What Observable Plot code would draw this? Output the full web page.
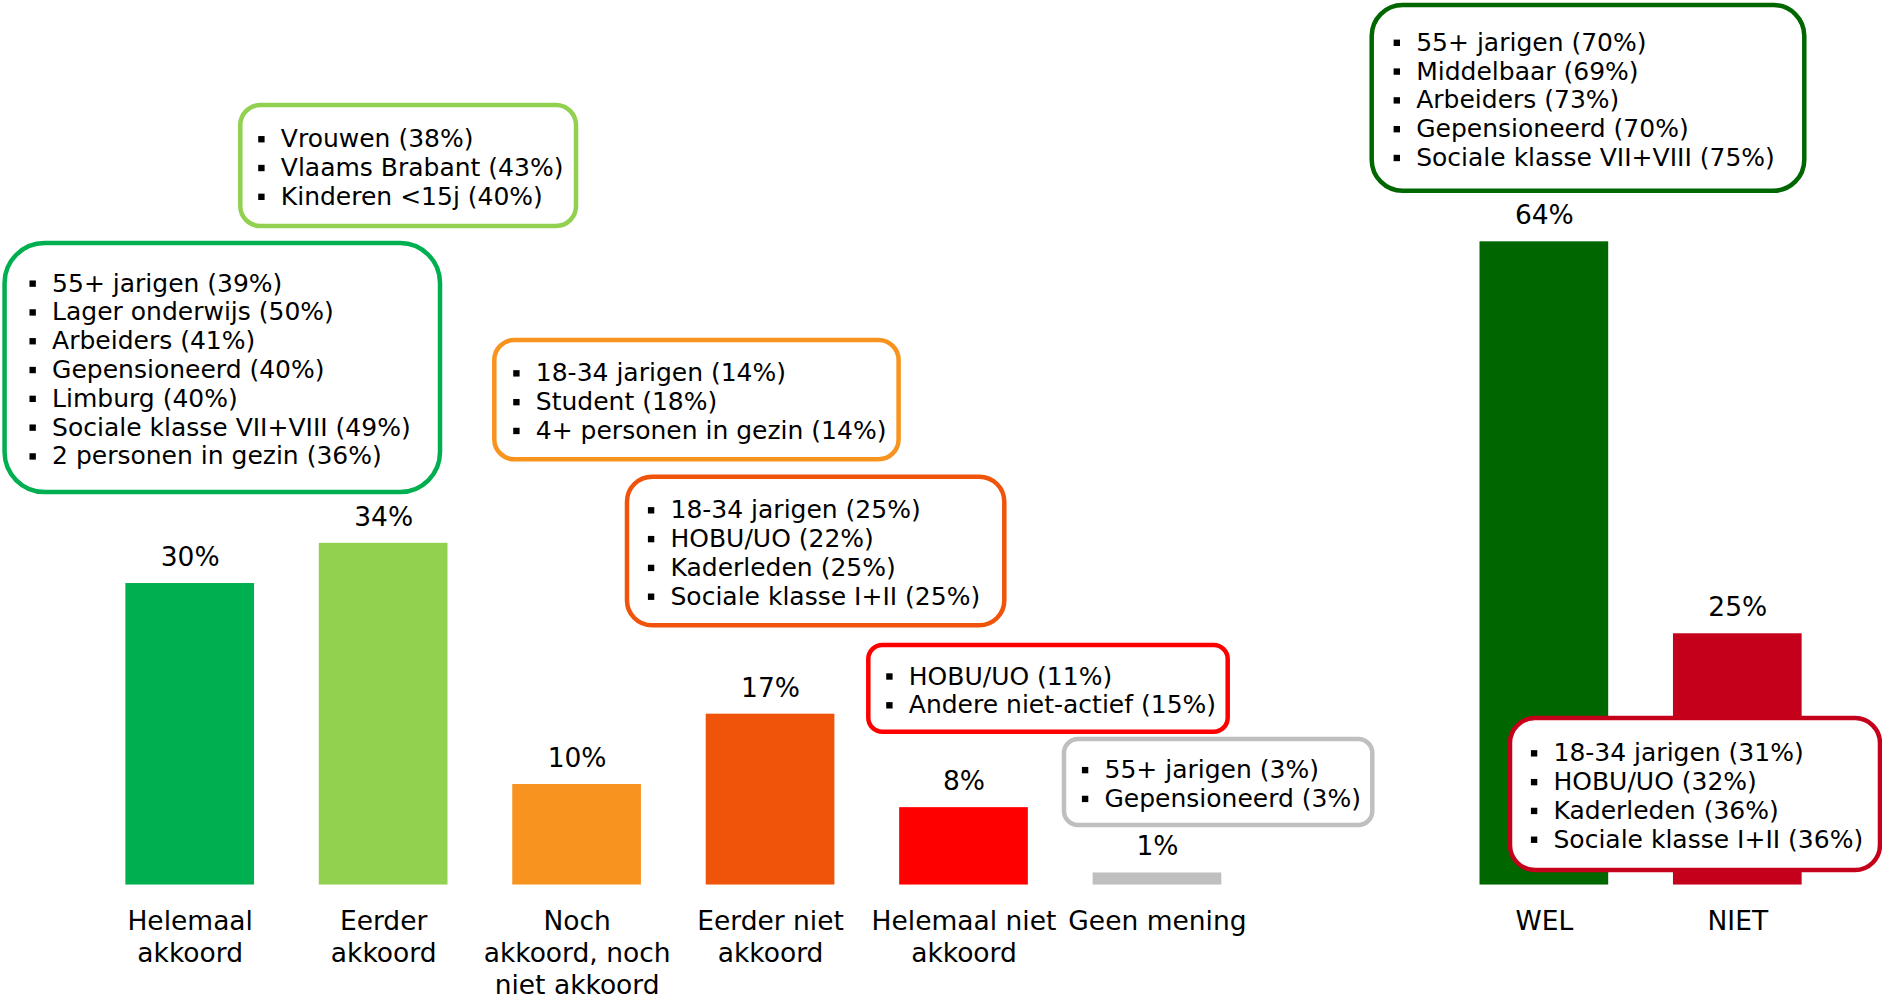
<!DOCTYPE html>
<html>
<head>
<meta charset="utf-8">
<script src="https://cdn.jsdelivr.net/npm/d3@7"></script>
<script src="https://cdn.jsdelivr.net/npm/@observablehq/plot@0.6"></script>
<style>
html, body { margin: 0; padding: 0; background: #ffffff; }
#chart svg { display: block; }
</style>
</head>
<body>
<div id="chart"></div>
<script>
// ---- Data ----
const categories = [
  "Helemaal\nakkoord",
  "Eerder\nakkoord",
  "Noch\nakkoord, noch\nniet akkoord",
  "Eerder niet\nakkoord",
  "Helemaal niet\nakkoord",
  "Geen mening",
  "WEL",
  "NIET"
];
const values = [30, 34, 10, 17, 7.7, 1.2, 64, 25];

const profiles = [
  ["55+ jarigen (39%)", "Lager onderwijs (50%)", "Arbeiders (41%)", "Gepensioneerd (40%)", "Limburg (40%)", "Sociale klasse VII+VIII (49%)", "2 personen in gezin (36%)"],
  ["Vrouwen (38%)", "Vlaams Brabant (43%)", "Kinderen <15j (40%)"],
  ["18-34 jarigen (14%)", "Student (18%)", "4+ personen in gezin (14%)"],
  ["18-34 jarigen (25%)", "HOBU/UO (22%)", "Kaderleden (25%)", "Sociale klasse I+II (25%)"],
  ["HOBU/UO (11%)", "Andere niet-actief (15%)"],
  ["55+ jarigen (3%)", "Gepensioneerd (3%)"],
  ["55+ jarigen (70%)", "Middelbaar (69%)", "Arbeiders (73%)", "Gepensioneerd (70%)", "Sociale klasse VII+VIII (75%)"],
  ["18-34 jarigen (31%)", "HOBU/UO (32%)", "Kaderleden (36%)", "Sociale klasse I+II (36%)"]
];

// ---- Styles / layout ----
const palette = ["#00B050", "#92D050", "#F7931E", "#F0530A", "#FF0000", "#BFBFBF", "#006600", "#C5001A"];
// callout boxes, in data units (x: category slot, y: percent)
const callouts = [
  {x1: -0.957, x2: 1.294, y1: 63.83, y2: 39.05, rx: 40, inset: 47},
  {x1: 0.2616, x2: 1.997, y1: 77.56, y2: 65.52, rx: 20, inset: 40},
  {x1: 1.5746, x2: 3.6645, y1: 54.18, y2: 42.31, rx: 20, inset: 41},
  {x1: 2.2605, x2: 4.2109, y1: 40.58, y2: 25.79, rx: 25, inset: 43},
  {x1: 3.5079, x2: 5.3657, y1: 23.83, y2: 15.20, rx: 14, inset: 40},
  {x1: 4.5195, x2: 6.1132, y1: 14.48, y2: 5.92, rx: 14, inset: 40},
  {x1: 6.1101, x2: 8.3463, y1: 87.51, y2: 69.03, rx: 31, inset: 44},
  {x1: 6.825, x2: 8.7376, y1: 16.57, y2: 1.44, rx: 25, inset: 43}
];
const halfBar = 0.3326;
const FONT = "DejaVu Sans, Verdana, sans-serif";
const boxFont = 25, labelFont = 26.5, boxLine = 28.8, catLine = 32.2;

const bars = categories.map((c, i) => ({
  name: c, value: values[i], color: palette[i], slot: i < 6 ? i : i + 1
}));

const marks = [];
marks.push(Plot.rect(bars, {
  x1: d => d.slot - halfBar, x2: d => d.slot + halfBar,
  y1: 0, y2: "value", fill: "color"
}));
marks.push(Plot.text(bars, {
  x: "slot", y: "value", text: d => Math.round(d.value) + "%",
  dy: -26, fontSize: labelFont, lineAnchor: "middle", fill: "#000"
}));
// category labels, one mark per line
const catLines = bars.flatMap(b => b.name.split("\n").map((t, k) => ({slot: b.slot, t, k})));
for (let k = 0; k < 3; k++) {
  marks.push(Plot.text(catLines.filter(d => d.k === k), {
    x: "slot", y: 0, text: "t", dy: 36 + k * catLine,
    fontSize: labelFont, lineAnchor: "middle", fill: "#000"
  }));
}
// callouts
callouts.forEach((c, i) => {
  marks.push(Plot.rect([c], {
    x1: "x1", x2: "x2", y1: "y1", y2: "y2",
    fill: "white", stroke: palette[i], strokeWidth: 4.5, rx: c.rx
  }));
  const items = profiles[i];
  const yc = (c.y1 + c.y2) / 2;
  items.forEach((t, k) => {
    const off = (k - (items.length - 1) / 2) * boxLine + 2;
    const row = [{x: c.x1, y: yc, t}];
    marks.push(Plot.dot(row, {
      x: "x", y: "y", dx: c.inset - 19.4, dy: off,
      symbol: "square", r: 3.6, fill: "#000"
    }));
    marks.push(Plot.text(row, {
      x: "x", y: "y", text: "t", dx: c.inset, dy: off,
      textAnchor: "start", lineAnchor: "middle", fontSize: boxFont, fill: "#000"
    }));
  });
});

const chart = Plot.plot({
  width: 1882,
  height: 997,
  marginTop: 0, marginBottom: 0, marginLeft: 0, marginRight: 0,
  x: {type: "linear", domain: [-0.9806, 8.748], axis: null},
  y: {domain: [-11.19, 88.01], axis: null},
  color: {type: "identity"},
  style: {fontFamily: FONT, background: "#ffffff", color: "#000", overflow: "visible"},
  marks
});
document.getElementById("chart").appendChild(chart);
</script>
</body>
</html>
